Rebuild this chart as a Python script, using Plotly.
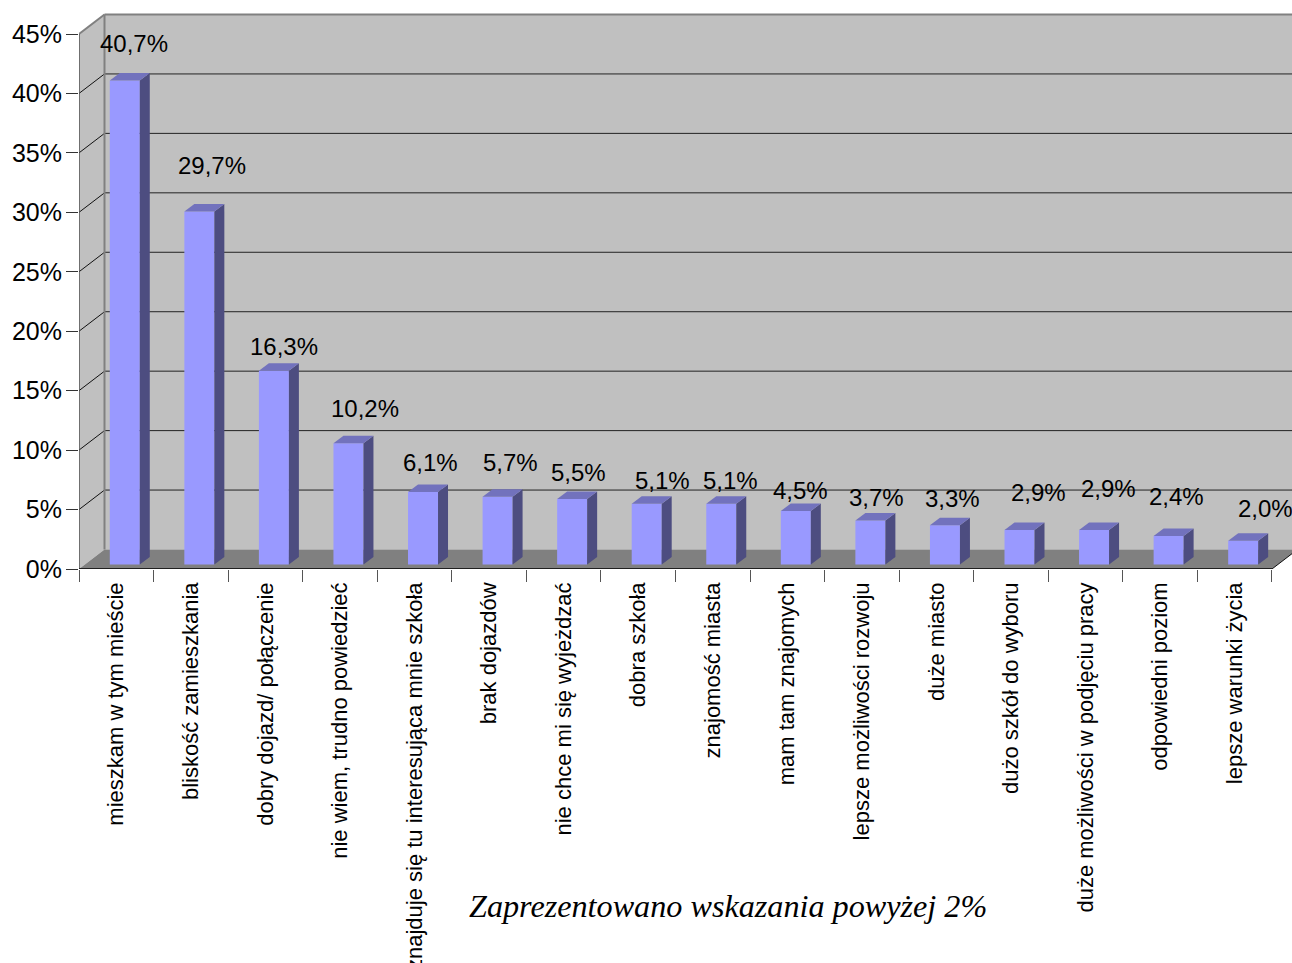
import plotly.graph_objects as go

categories = ["mieszkam w tym mieście", "bliskość zamieszkania", "dobry dojazd/ połączenie",
              "nie wiem, trudno powiedzieć", "znajduje się tu interesująca mnie szkoła", "brak dojazdów",
              "nie chce mi się wyjeżdzać", "dobra szkoła", "znajomość miasta", "mam tam znajomych",
              "lepsze możliwości rozwoju", "duże miasto", "dużo szkół do wyboru",
              "duże możliwości w podjęciu pracy", "odpowiedni poziom", "lepsze warunki życia"]
values = [40.7, 29.7, 16.3, 10.2, 6.1, 5.7, 5.5, 5.1, 5.1, 4.5, 3.7, 3.3, 2.9, 2.9, 2.4, 2.0]
y_ticks = [0, 5, 10, 15, 20, 25, 30, 35, 40, 45]

# label nudges, in pixels, relative to each bar's value position
label_dx = [18, 21, 19, 25, 16, 21, 15, 24, 18, 13, 15, 16, 27, 23, 16, 31]
label_dy = [42, 50, 29, 39, 34, 39, 31, 28, 28, 25, 28, 31, 42, 46, 44, 37]

# geometry of the fake 3D box, in axis units
PX_X = 74.56
PX_Y = 11.889
W, H = 1292, 963
ML, MB = 79, 394
plot_w, plot_h = W - ML, H - MB
X0 = -0.5
XN = len(categories) - 0.5
XMAX = X0 + plot_w / PX_X
YMAX = plot_h / PX_Y
YTOP = max(y_ticks)
WALL_DX, WALL_DY = 25.5 / PX_X, 19.5 / PX_Y
BAR_W = 30 / PX_X
BAR_SHIFT = 8.5 / PX_X
BAR_BASE = 4.5 / PX_Y
BAR_DX, BAR_DY = 10 / PX_X, 7.5 / PX_Y

FONT = "Liberation Sans"


def poly(pts):
    return "M" + " L".join(f"{x:.4f},{y:.4f}" for x, y in pts) + " Z"


shapes = []


def add_poly(pts, fill):
    shapes.append(dict(type="path", path=poly(pts), xref="x2", yref="y", layer="below",
                       fillcolor=fill, line=dict(width=0)))


def add_line(x0, y0, x1, y1, color, width):
    shapes.append(dict(type="line", x0=x0, y0=y0, x1=x1, y1=y1, xref="x2", yref="y", layer="below",
                       line=dict(color=color, width=width)))


bx, by = X0 + WALL_DX, WALL_DY
# back wall, left wall, floor
add_poly([(bx, by), (XMAX + 1, by), (XMAX + 1, YTOP + by), (bx, YTOP + by)], "#C0C0C0")
add_poly([(X0, 0), (bx, by), (bx, YTOP + by), (X0, YTOP)], "#C0C0C0")
add_poly([(X0, 0), (bx, by), (XMAX + 1, by), (XN + WALL_DX, by), (XN, 0)], "#808080")
# grid
for t in y_ticks[1:-1]:
    add_line(bx, t + by, XMAX + 1, t + by, "#222222", 1)
    add_line(X0, t, bx, t + by, "#111111", 1)
# frame
add_line(bx, by, bx, YTOP + by, "#808080", 2)
add_line(bx, YTOP + by, XMAX + 1, YTOP + by, "#808080", 2)
add_line(X0, YTOP, bx, YTOP + by, "#808080", 2)
add_line(X0, 0, X0, YTOP, "#555555", 1.5)
add_line(X0, 0, XN, 0, "#000000", 1.5)
add_line(XN, 0, XN + WALL_DX, by, "#111111", 1)

fig = go.Figure()
fig.add_trace(go.Bar(x=categories, y=values, base=BAR_BASE, width=BAR_W, offset=BAR_SHIFT - BAR_W / 2,
                     marker=dict(color="#9999FF", line=dict(width=0)), hoverinfo="skip", showlegend=False))

for i, v in enumerate(values):
    right = i + BAR_SHIFT + BAR_W / 2
    left = right - BAR_W
    top = v + BAR_BASE
    side = [(right, BAR_BASE), (right + BAR_DX, BAR_BASE + BAR_DY), (right + BAR_DX, top + BAR_DY), (right, top), (right, BAR_BASE)]
    cap = [(left, top), (left + BAR_DX, top + BAR_DY), (right + BAR_DX, top + BAR_DY), (right, top), (left, top)]
    for pts, col in ((side, "#4D4D80"), (cap, "#7272BD")):
        fig.add_trace(go.Scatter(x=[p[0] for p in pts], y=[p[1] for p in pts], xaxis="x2", yaxis="y",
                                 mode="lines", fill="toself",
                                 fillcolor=col, line=dict(width=0), hoverinfo="skip", showlegend=False))

annotations = [dict(x=c, y=v, xref="x", yref="y", text=f"{v:.1f}%".replace(".", ","), showarrow=False,
                    xshift=dx, yshift=dy, xanchor="center", yanchor="middle",
                    font=dict(family=FONT, size=24, color="#000000"))
               for c, v, dx, dy in zip(categories, values, label_dx, label_dy)]
annotations.append(dict(x=(728 - ML) / plot_w, y=(H - MB - 906) / plot_h, xref="paper", yref="paper",
                        text="Zaprezentowano wskazania powyżej 2%", showarrow=False,
                        xanchor="center", yanchor="middle",
                        font=dict(family="Liberation Serif", size=32.2, color="#000000", style="italic")))

fig.update_layout(
    width=W, height=H, margin=dict(l=ML, r=0, t=0, b=MB, pad=0), autosize=False,
    paper_bgcolor="#FFFFFF", plot_bgcolor="#FFFFFF", showlegend=False,
    shapes=shapes, annotations=annotations, hovermode=False,
    xaxis=dict(type="category", categoryorder="array", categoryarray=categories, automargin=False,
               range=[X0, XMAX], tickson="boundaries", ticks="outside", ticklen=12, tickcolor="#555555",
               tickwidth=1, showgrid=False, zeroline=False, showline=False, tickangle=-90,
               ticklabelstandoff=8, tickfont=dict(family=FONT, size=22, color="#000000")),
    xaxis2=dict(overlaying="x", anchor="y", range=[X0, XMAX], visible=False),
    yaxis=dict(range=[0, YMAX], tickvals=y_ticks, ticktext=[f"{t}%" for t in y_ticks], ticks="outside",
               automargin=False, ticklen=12, tickcolor="#333333", tickwidth=1, showgrid=False, zeroline=False,
               showline=False, ticklabelstandoff=-1, tickfont=dict(family=FONT, size=25, color="#000000")),
)
fig.write_html("out.html", config=dict(displayModeBar=False),
               post_script="document.body.style.margin='0';document.body.style.overflow='hidden';")
